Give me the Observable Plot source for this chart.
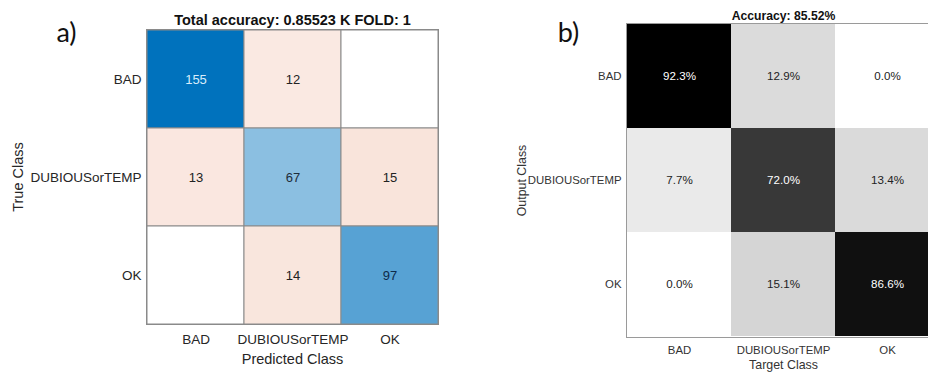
<!DOCTYPE html>
<html>
<head>
<meta charset="utf-8">
<script src="https://cdn.jsdelivr.net/npm/d3@7"></script>
<script src="https://cdn.jsdelivr.net/npm/@observablehq/plot@0.6"></script>
<style>
  html, body { margin: 0; padding: 0; background: #fff; }
  #wrap { position: relative; width: 928px; height: 372px; overflow: hidden; background: #fff; }
  #wrap > svg, #wrap > figure { position: absolute; top: 0; margin: 0; }
</style>
</head>
<body>
<div id="wrap"></div>
<script>
// ---- data ----
const classes = ["BAD", "DUBIOUSorTEMP", "OK"];
// panel a: rows = true class, columns = predicted class
const countsA = [
  [155, 12, 0],
  [13, 67, 15],
  [0, 14, 97]
];
// panel b: rows = output class, columns = target class (percent)
const pctB = [
  [92.3, 12.9, 0.0],
  [7.7, 72.0, 13.4],
  [0.0, 15.1, 86.6]
];
const titleA = "Total accuracy: 0.85523 K FOLD: 1";
const titleB = "Accuracy: 85.52%";
const panelA = "a)";
const panelB = "b)";
const xLabelA = "Predicted Class", yLabelA = "True Class";
const xLabelB = "Target Class", yLabelB = "Output Class";

// ---- tables ----
const cellsA = [];
countsA.forEach((row, i) => row.forEach((v, j) => cellsA.push({y: classes[i], x: classes[j], v, diag: i === j})));
const cellsB = [];
pctB.forEach((row, i) => row.forEach((v, j) => cellsB.push({y: classes[i], x: classes[j], v})));

const font = "'Liberation Sans', Arial, Helvetica, sans-serif";
const blue = d3.interpolateRgb("#ffffff", "#0072BD");
const orange = d3.interpolateRgb("#ffffff", "#D95319");
const maxA = d3.max(cellsA, d => d.v);
const fillA = d => d.v === 0 ? "#ffffff" : d.diag ? blue(Math.min(1, d.v / maxA * 1.05)) : orange(d.v / 95);
const textFillA = d => d.diag ? (d.v / maxA > 0.8 ? "#d8ecfb" : d.v / maxA > 0.55 ? "#0e2a4a" : "#1e2c3a") : "#222222";

const maxB = d3.max(cellsB, d => d.v);
const grey = d3.interpolateRgb("#ffffff", "#000000");
const fillB = d => grey(d.v / maxB);
const textFillB = d => d.v / maxB > 0.5 ? "#ffffff" : "#222222";

// ---- panel a ----
const plotA = Plot.plot({
  width: 464, height: 372,
  marginLeft: 146, marginRight: 26, marginTop: 29, marginBottom: 48,
  style: {fontFamily: font, background: "transparent", overflow: "visible"},
  x: {domain: classes, padding: 0},
  y: {domain: classes, padding: 0},
  marks: [
    Plot.cell(cellsA, {x: "x", y: "y", fill: fillA, stroke: "#8a8a8a", strokeWidth: 1}),
    Plot.text(cellsA.filter(d => d.v > 0), {x: "x", y: "y", text: d => String(d.v), fill: textFillA, fontSize: 13}),
    Plot.frame({stroke: "#8a8a8a"}),
    Plot.axisX({anchor: "bottom", tickSize: 0, tickPadding: 10, fontSize: 13.5, fill: "#262626", label: null}),
    Plot.axisX({anchor: "bottom", tickSize: 0, tickFormat: () => "", fontSize: 14.5, fill: "#262626", label: xLabelA, labelAnchor: "center", labelOffset: 39}),
    Plot.axisY({anchor: "left", tickSize: 0, tickPadding: 5, fontSize: 13.5, fill: "#262626", label: null}),
    Plot.axisY({anchor: "left", tickSize: 0, tickFormat: () => "", fontSize: 14.5, fill: "#262626", label: yLabelA, labelAnchor: "center", labelOffset: 134}),
    Plot.text([titleA], {frameAnchor: "top", lineAnchor: "middle", dy: -9, fontWeight: "bold", fontSize: 14.5, fill: "#111"}),
    Plot.text([panelA], {frameAnchor: "top-left", lineAnchor: "middle", dx: -80, dy: 4, textAnchor: "middle", fontSize: 27, fontFamily: "Lato, 'Open Sans', sans-serif", fill: "#111"})
  ]
});
plotA.style.left = "0px";

// ---- panel b ----
const plotB = Plot.plot({
  width: 476, height: 372,
  marginLeft: 162, marginRight: 0, marginTop: 23, marginBottom: 35,
  style: {fontFamily: font, background: "transparent", overflow: "visible"},
  x: {domain: classes, padding: 0},
  y: {domain: classes, padding: 0},
  marks: [
    Plot.cell(cellsB, {x: "x", y: "y", fill: fillB}),
    Plot.text(cellsB, {x: "x", y: "y", text: d => d.v.toFixed(1) + "%", fill: textFillB, fontSize: 11.6}),
    Plot.frame({stroke: "#9a9a9a"}),
    Plot.axisX({anchor: "bottom", tickSize: 0, tickPadding: 8, fontSize: 11.4, fill: "#333", label: null}),
    Plot.axisX({anchor: "bottom", tickSize: 0, tickFormat: () => "", fontSize: 12.4, fill: "#333", label: xLabelB, labelAnchor: "center", labelOffset: 31}),
    Plot.axisY({anchor: "left", tickSize: 0, tickPadding: 5, fontSize: 11.4, fill: "#333", label: null}),
    Plot.axisY({anchor: "left", tickSize: 0, tickFormat: () => "", fontSize: 12.4, fill: "#333", label: yLabelB, labelAnchor: "center", labelOffset: 109}),
    Plot.text([titleB], {frameAnchor: "top", lineAnchor: "middle", dy: -7, fontWeight: "bold", fontSize: 12.2, fill: "#111"}),
    Plot.text([panelB], {frameAnchor: "top-left", lineAnchor: "middle", dx: -58, dy: 10, textAnchor: "middle", fontSize: 27, fontFamily: "Lato, 'Open Sans', sans-serif", fill: "#111"})
  ]
});
plotB.style.left = "464px";

const wrap = document.getElementById("wrap");
wrap.appendChild(plotA);
wrap.appendChild(plotB);
</script>
</body>
</html>
